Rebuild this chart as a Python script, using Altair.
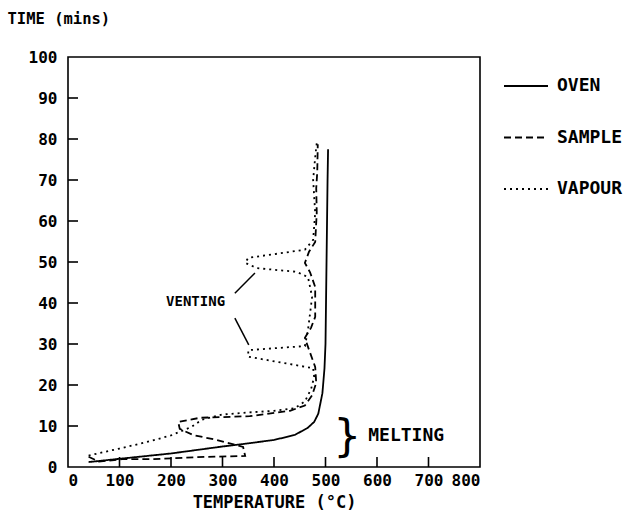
import altair as alt
import pandas as pd

# ---- data ----
oven_T = [40, 100, 200, 300, 340, 400, 440, 465, 478, 486, 494, 498, 500, 501, 502, 503, 504, 505]
oven_t = [1.2, 2.0, 3.3, 5.0, 5.6, 6.6, 7.8, 9.5, 11.0, 13.0, 18.0, 24.0, 30.0, 40.0, 50.0, 60.0, 70.0, 77.5]

sample_T = [40, 60, 105, 163, 250, 344, 340, 289, 243, 217, 214, 256, 353, 431, 460, 474, 482,
            480, 466, 460, 472, 480, 480, 470, 460, 468, 480, 483, 482, 484, 485]
sample_t = [2.5, 1.3, 1.9, 1.9, 2.4, 2.7, 4.9, 6.6, 7.8, 9.3, 11.0, 12.0, 12.4, 13.7, 15.0, 17.5, 20.5,
            24.4, 29.3, 31.5, 34.0, 36.6, 43.9, 47.5, 49.8, 52.5, 54.9, 62.0, 68.0, 72.0, 78.7]

vapour_T = [40, 100, 150, 200, 240, 260, 300, 350, 400, 440, 460, 472, 478, 476, 350, 350, 460,
            466, 474, 466, 444, 367, 344, 350, 460, 476, 480, 476, 480, 483]
vapour_t = [2.8, 4.5, 6.0, 7.7, 9.8, 11.5, 12.8, 13.3, 13.7, 14.3, 16.0, 19.0, 22.0, 24.1, 26.9, 28.5, 29.5,
            33.4, 41.5, 46.3, 47.6, 48.5, 49.8, 51.0, 53.0, 55.4, 62.0, 70.0, 75.6, 79.0]

series_names = ["OVEN", "SAMPLE", "VAPOUR"]
dashes = [[1, 0], [7, 4], [2, 4]]

x_ticks = [100, 200, 300, 400, 500, 600, 700]
y_ticks = [10, 20, 30, 40, 50, 60, 70, 80, 90]

# annotations
venting_label = ["VENTING"]
venting_T = [305]
venting_t = [40.2]
melting_label = ["MELTING"]
melting_T = [583]
melting_t = [7.6]
brace_T = [542]
brace_t = [7.0]
pointer_T1 = [324, 324]
pointer_t1 = [42.4, 36.3]
pointer_T2 = [363, 351]
pointer_t2 = [47.3, 29.8]

FONT = "DejaVu Sans Mono"

rows = []
for name, Ts, ts in [("OVEN", oven_T, oven_t), ("SAMPLE", sample_T, sample_t), ("VAPOUR", vapour_T, vapour_t)]:
    for i, (a, b) in enumerate(zip(Ts, ts)):
        rows.append({"series": name, "T": a, "t": b, "order": i})
df = pd.DataFrame(rows)

xscale = alt.Scale(domain=[0, 800], nice=False)
yscale = alt.Scale(domain=[0, 100], nice=False)

lines = alt.Chart(df).mark_line(color="black", strokeWidth=1.8).encode(
    x=alt.X("T:Q", scale=xscale,
            axis=alt.Axis(values=[0, 100, 200, 300, 400, 500, 600, 700, 800], title="TEMPERATURE (°C)",
                          titleX=206, titleY=35, titleBaseline="middle", titleAlign="center",
                          titleFontSize=17, labelPadding=5)),
    y=alt.Y("t:Q", scale=yscale,
            axis=alt.Axis(values=[0, 10, 20, 30, 40, 50, 60, 70, 80, 90, 100], title="TIME (mins)",
                          titleAngle=0, titleX=-61, titleY=-39, titleAlign="left", titleBaseline="middle",
                          titleFontSize=15.5, labelPadding=11)),
    strokeDash=alt.StrokeDash("series:N", scale=alt.Scale(domain=series_names, range=dashes),
                              legend=alt.Legend(title=None, orient="none", legendX=435, legendY=6,
                                                symbolType="stroke", symbolSize=1936, symbolStrokeWidth=1.8,
                                                symbolStrokeColor="black", rowPadding=19.5, labelOffset=8,
                                                padding=0, labelFontSize=18, labelFont=FONT,
                                                labelFontWeight="bold", labelColor="black")),
    order="order:Q",
)

xt = alt.Chart(pd.DataFrame({"T": x_ticks})).mark_rule(color="black", strokeWidth=1.6).encode(
    x=alt.X("T:Q", scale=xscale), y=alt.value(410), y2=alt.value(400))
yt = alt.Chart(pd.DataFrame({"t": y_ticks})).mark_rule(color="black", strokeWidth=1.6).encode(
    y=alt.Y("t:Q", scale=yscale), x=alt.value(0), x2=alt.value(10))

venting = alt.Chart(pd.DataFrame({"txt": venting_label, "T": venting_T, "t": venting_t})).mark_text(
    font=FONT, fontSize=14, fontWeight="bold", color="black", baseline="middle", align="right").encode(
    x=alt.X("T:Q", scale=xscale), y=alt.Y("t:Q", scale=yscale), text="txt:N")
melting = alt.Chart(pd.DataFrame({"txt": melting_label, "T": melting_T, "t": melting_t})).mark_text(
    font=FONT, fontSize=18, fontWeight="bold", color="black", baseline="middle", align="left").encode(
    x=alt.X("T:Q", scale=xscale), y=alt.Y("t:Q", scale=yscale), text="txt:N")

brace = alt.Chart(pd.DataFrame({"T": brace_T, "t": brace_t, "s": ["}"]})).mark_text(
    font="DejaVu Sans", fontSize=44, fontWeight="normal", color="black", baseline="middle", align="center").encode(
    x=alt.X("T:Q", scale=xscale), y=alt.Y("t:Q", scale=yscale), text="s:N")

pointers = alt.Chart(pd.DataFrame({"T1": pointer_T1, "t1": pointer_t1, "T2": pointer_T2, "t2": pointer_t2})).mark_rule(
    color="black", strokeWidth=1.5).encode(
    x=alt.X("T1:Q", scale=xscale), y=alt.Y("t1:Q", scale=yscale), x2="T2:Q", y2="t2:Q")

chart = alt.layer(lines, xt, yt, pointers, venting, melting, brace).properties(
    width=412, height=410,
    background="white",
    padding={"left": 68, "top": 57, "right": 149, "bottom": 57},
    autosize=alt.AutoSizeParams(type="none"),
).configure_view(stroke="black", strokeWidth=1.6).configure_axis(
    domain=False, ticks=False, grid=False, labelFont=FONT, labelFontSize=16, labelFontWeight="bold",
    labelColor="black", titleFont=FONT, titleFontWeight="bold", titleColor="black",
)

chart.save("out.html", embed_options={"renderer": "svg", "actions": False})
